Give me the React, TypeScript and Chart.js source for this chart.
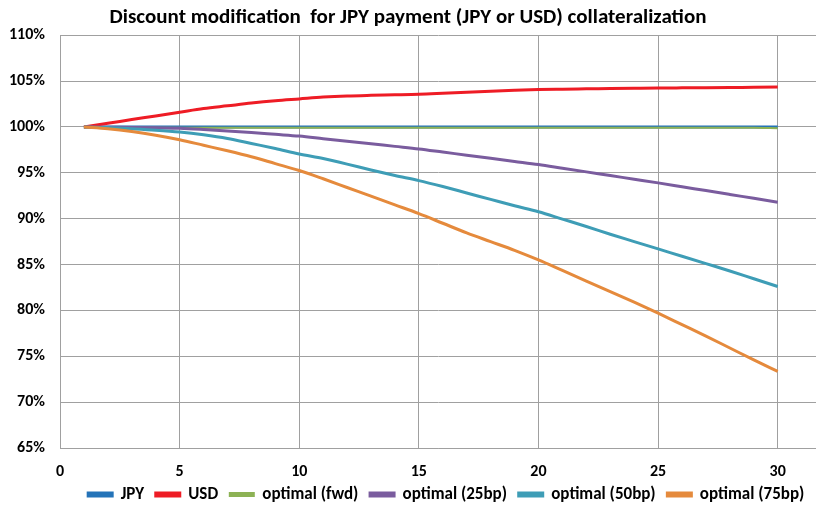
import React, { useEffect, useRef } from "react";
import { Chart, registerables } from "chart.js";

Chart.register(...registerables);

const years = [1, 2, 3, 4, 5, 6, 7, 8, 9, 10, 11, 12, 13, 14, 15, 16, 17, 18, 19, 20, 21, 22, 23, 24, 25, 26, 27, 28, 29, 30];

const jpy = [100, 100, 100, 100, 100, 100, 100, 100, 100, 100, 100, 100, 100, 100, 100, 100, 100, 100, 100, 100, 100, 100, 100, 100, 100, 100, 100, 100, 100, 100];
const usd = [100, 100.4, 100.8, 101.2, 101.6, 102.0, 102.3, 102.6, 102.85, 103.05, 103.25, 103.38, 103.45, 103.5, 103.56, 103.67, 103.79, 103.9, 104.0, 104.08, 104.12, 104.15, 104.18, 104.21, 104.24, 104.26, 104.28, 104.3, 104.32, 104.34];
const optFwd = [100, 99.9, 99.9, 99.9, 99.9, 99.9, 99.9, 99.9, 99.9, 99.9, 99.9, 99.9, 99.9, 99.9, 99.9, 99.9, 99.9, 99.9, 99.9, 99.9, 99.9, 99.9, 99.9, 99.9, 99.9, 99.9, 99.9, 99.9, 99.9, 99.85];
const opt25 = [100, 99.97, 99.94, 99.9, 99.85, 99.72, 99.56, 99.38, 99.19, 99.0, 98.72, 98.44, 98.16, 97.88, 97.6, 97.26, 96.92, 96.58, 96.24, 95.9, 95.5, 95.1, 94.7, 94.3, 93.9, 93.48, 93.06, 92.64, 92.22, 91.8];
const opt50 = [100, 99.93, 99.8, 99.65, 99.45, 99.15, 98.75, 98.2, 97.65, 97.05, 96.55, 95.95, 95.3, 94.7, 94.15, 93.5, 92.8, 92.1, 91.4, 90.75, 89.95, 89.15, 88.3, 87.5, 86.7, 85.9, 85.1, 84.3, 83.45, 82.6];
const opt75 = [100, 99.8, 99.5, 99.1, 98.6, 98.0, 97.4, 96.75, 96.0, 95.25, 94.35, 93.4, 92.45, 91.5, 90.55, 89.5, 88.45, 87.5, 86.55, 85.5, 84.35, 83.2, 82.05, 80.9, 79.7, 78.45, 77.2, 75.9, 74.6, 73.35];

const seriesNames = ["JPY", "USD", "optimal (fwd)", "optimal (25bp)", "optimal (50bp)", "optimal (75bp)"];
const seriesValues = [jpy, usd, optFwd, opt25, opt50, opt75];
const seriesColors = ["#2473B8", "#EE1C25", "#8DB255", "#7A5C9E", "#3E9DB6", "#E58A3C"];
const seriesWidths = [3, 3, 2, 3, 3, 3];

const titleText = "Discount modification  for JPY payment (JPY or USD) collateralization";
const FONT = "Carlito, 'Liberation Sans Narrow', 'Arial Narrow', 'Liberation Sans', sans-serif";

export default function App() {
  const ref = useRef<HTMLCanvasElement | null>(null);

  useEffect(() => {
    document.body.style.margin = "0";
    const canvas = ref.current;
    if (!canvas) return;
    const datasets = seriesNames.map((name, i) => ({
      label: name,
      data: years.map((x, j) => ({ x, y: seriesValues[i][j] })),
      borderColor: seriesColors[i],
      backgroundColor: seriesColors[i],
      borderWidth: seriesWidths[i],
      pointRadius: 0,
      cubicInterpolationMode: "monotone" as const,
      order: seriesNames.length - i,
    }));
    const baseLabels = Chart.defaults.plugins.legend.labels.generateLabels;
    const chart = new Chart(canvas, {
      type: "line",
      data: { datasets },
      options: {
        animation: false,
        responsive: false,
        layout: { padding: { left: 0, right: 0, top: 0, bottom: 0 } },
        plugins: {
          title: {
            display: true,
            text: titleText,
            color: "#000",
            font: { family: FONT, size: 21, weight: "bold" },
            padding: { top: 5, bottom: 5 },
          },
          legend: {
            position: "bottom",
            align: "end",
            maxHeight: 24,
            labels: {
              boxWidth: 24,
              boxHeight: 3,
              padding: 4,
              color: "#000",
              font: { family: FONT, size: 17, weight: "bold" },
              generateLabels: (c: any) =>
                baseLabels(c)
                  .sort((a: any, b: any) => a.datasetIndex - b.datasetIndex)
                  .map((l: any) => ({ ...l, text: l.text + "  " })),
            },
          },
          tooltip: { enabled: false },
        },
        scales: {
          x: {
            type: "linear",
            min: 0,
            max: 31.6,
            grid: { color: "#A0A0A0", lineWidth: 1, drawTicks: false },
            border: { color: "#A0A0A0", width: 1 },
            afterFit: (s: any) => {
              s.height = 34;
            },
            ticks: {
              stepSize: 5,
              includeBounds: false,
              padding: 14,
              color: "#000",
              maxRotation: 0,
              font: { family: FONT, size: 16, weight: "bold" },
            },
          },
          y: {
            min: 65,
            max: 110,
            grid: { color: "#A0A0A0", lineWidth: 1, drawTicks: false },
            border: { color: "#A0A0A0", width: 1 },
            afterFit: (s: any) => {
              s.width = 60;
            },
            ticks: {
              stepSize: 5,
              padding: 15,
              color: "#000",
              font: { family: FONT, size: 16, weight: "bold" },
              callback: (v: any) => v + "%",
            },
          },
        },
      },
    });
    return () => chart.destroy();
  }, []);

  return (
    <div style={{ width: 816, height: 506, background: "#fff" }}>
      <canvas ref={ref} width={816} height={506} style={{ display: "block" }} />
    </div>
  );
}
